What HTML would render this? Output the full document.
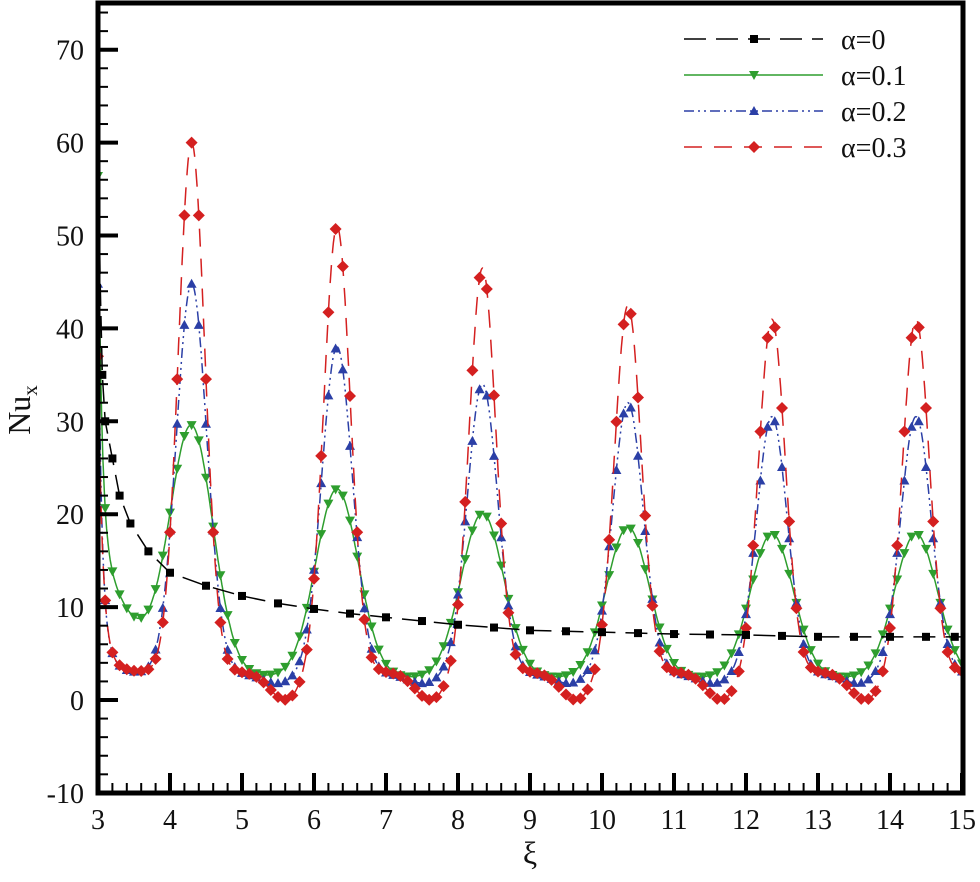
<!DOCTYPE html>
<html><head><meta charset="utf-8"><style>
body{margin:0;background:#fff}
text{font-family:"Liberation Serif","DejaVu Serif",serif;fill:#111}
</style></head><body>
<svg id="s" width="980" height="877" viewBox="0 0 980 877" xmlns="http://www.w3.org/2000/svg" font-family="Liberation Serif, serif">
<defs><clipPath id="c"><rect x="98" y="3" width="865" height="790"/></clipPath></defs>
<g id="plot" clip-path="url(#c)"></g>
<g id="axes"></g>
<text x="20" y="400" font-size="32" font-family="Liberation Serif, serif" transform="rotate(-90 30 400)" text-anchor="middle">Nu<tspan font-size="21" dy="7">x</tspan></text>
<text x="530" y="864" font-size="32" font-family="Liberation Serif, serif" text-anchor="middle">ξ</text>
<g id="leg"></g>
</svg>
<script>
const NS="http://www.w3.org/2000/svg";
const X=x=>98+(x-3)*72, Y=v=>700-v*9.29;
function el(t,a,p){const e=document.createElementNS(NS,t);for(const k in a)e.setAttribute(k,a[k]);(p||document.getElementById('plot')).appendChild(e);return e;}
const ax=document.getElementById('axes');
const FF='Liberation Serif, serif';
el('rect',{x:98,y:3,width:865,height:790,fill:'none',stroke:'#000','stroke-width':5},ax);
for(let v=-10;v<=74;v+=2){const maj=v%10==0;const y=Y(v);
 el('line',{x1:98,x2:98+(maj?20:10),y1:y,y2:y,stroke:'#000','stroke-width':maj?4:2},ax);
 if(maj){const t=el('text',{x:84,y:y+10,'font-size':28,'text-anchor':'end','font-family':FF},ax);t.textContent=v;}}
for(let i=0;i<=60;i++){const x=3+i*0.2;const maj=i%5==0;const px=X(x);
 el('line',{x1:px,x2:px,y1:793,y2:793-(maj?20:10),stroke:'#000','stroke-width':maj?4:2},ax);
 if(maj){const t=el('text',{x:px,y:829,'font-size':28,'text-anchor':'middle','font-family':FF},ax);t.textContent=Math.round(x);}}
const P=[4.3,6.32,8.34,10.36,12.36,14.36];
function osc(x,b,w,A,d,doff,dw,s1,t1,s2,t2){let y=b;P.forEach((p,i)=>{y+=A[i]*Math.exp(-Math.pow((x-p)/w,2));y-=d*Math.exp(-Math.pow((x-p-doff)/dw,2));});
 y+=s1*Math.exp(-(x-3)/t1)+s2*Math.exp(-(x-3)/t2);return y;}
const series=[
 {c:'#2e9e2e',f:x=>osc(x,2.4,0.42,[26,20.3,17.7,16.2,15.5,15.5],0,1,0.3,38,0.05,16,0.5),dash:'',m:'tri-down'},
 {c:'#2b3fa6',f:x=>osc(x,2.8,0.3,[42,35.2,31.2,29.2,27.7,27.7],1,1.2,0.3,36,0.05,6,0.15),dash:'10 4 2 4 2 4',m:'tri'},
 {c:'#d42020',f:x=>osc(x,3,0.26,[57,48,43.5,39.5,38,38],3,1.3,0.3,30,0.06,4,0.15),dash:'18 12',m:'dia'}];
function marker(t,x,y,c,p){if(t=='tri')el('polygon',{points:`${x},${y-5} ${x-5},${y+4} ${x+5},${y+4}`,fill:c},p);
 else if(t=='tri-down')el('polygon',{points:`${x},${y+5} ${x-5},${y-4} ${x+5},${y-4}`,fill:c},p);
 else if(t=='dia')el('polygon',{points:`${x},${y-6} ${x+6},${y} ${x},${y+6} ${x-6},${y}`,fill:c},p);
 else el('rect',{x:x-4,y:y-4,width:8,height:8,fill:c},p);}
series.forEach(s=>{let d='';for(let x=3;x<=15.001;x+=0.01){d+=(d?'L':'M')+X(x).toFixed(1)+','+Y(s.f(x)).toFixed(1);}
 el('path',{d,fill:'none',stroke:s.c,'stroke-width':1.5,'stroke-dasharray':s.dash});
 for(let x=3;x<=15.001;x+=0.1)marker(s.m,X(x),Y(s.f(x)),s.c);});
const k=[[3,62],[3.03,45],[3.06,35],[3.1,30],[3.2,26],[3.3,22],[3.45,19],[3.7,16],[4,13.7],[4.5,12.3],[5,11.2],[5.5,10.4],[6,9.8],[6.5,9.3],[7,8.9],[7.5,8.5],[8,8.1],[8.5,7.8],[9,7.5],[10,7.3],[11,7.1],[12,7.0],[13,6.8],[14,6.8],[15,6.8]];
el('path',{d:k.map((p,i)=>(i?'L':'M')+X(p[0])+','+Y(p[1])).join(''),fill:'none',stroke:'#000','stroke-width':1.5,'stroke-dasharray':'22 10'});
[[3.06,35],[3.1,30],[3.2,26],[3.3,22],[3.45,19],[3.7,16],[4,13.7],[4.5,12.3],[5,11.2],[5.5,10.4],[6,9.8],[6.5,9.3],[7,8.9],[7.5,8.5],[8,8.1],[8.5,7.8],[9,7.5],[9.5,7.4],[10,7.3],[10.5,7.2],[11,7.1],[11.5,7.05],[12,7.0],[12.5,6.9],[13,6.8],[13.5,6.8],[14,6.8],[14.5,6.8],[14.9,6.8]].forEach(p=>marker('sq',X(p[0]),Y(p[1]),'#000'));
const lg=document.getElementById('leg');
const L=[['#000','22 10','sq','α=0'],['#2e9e2e','','tri-down','α=0.1'],['#2b3fa6','10 4 2 4 2 4','tri','α=0.2'],['#d42020','18 12','dia','α=0.3']];
L.forEach((l,i)=>{const y=39+i*36;el('line',{x1:684,x2:823,y1:y,y2:y,stroke:l[0],'stroke-width':1.5,'stroke-dasharray':l[1]},lg);marker(l[2],754,y,l[0],lg);
 const t=el('text',{x:841,y:y+10,'font-size':28,'font-family':FF},lg);t.textContent=l[3];});
</script>
</body></html>
